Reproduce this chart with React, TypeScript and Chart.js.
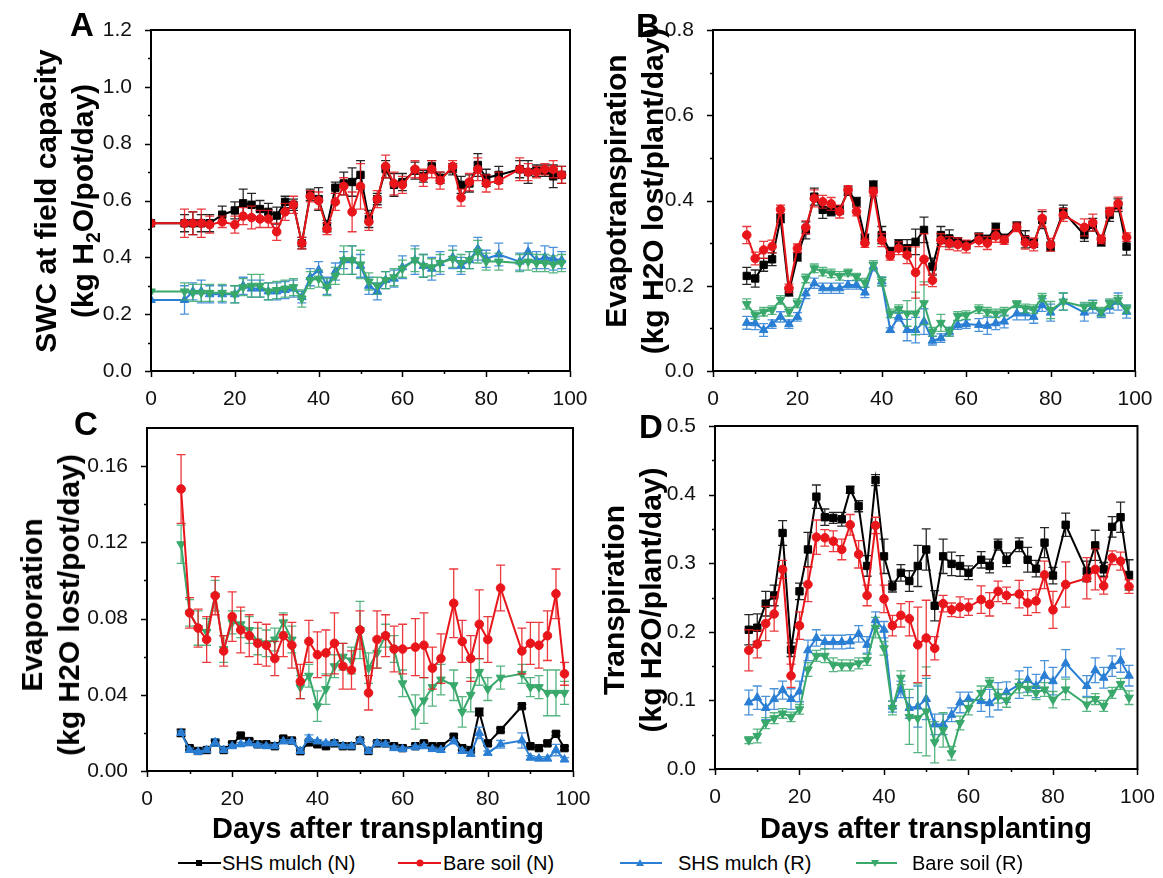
import React, { useEffect, useRef } from "react";
import { Chart, registerables } from "chart.js";
Chart.register(...registerables);

const FONT = '"Liberation Sans", Arial, Helvetica, sans-serif';
const BLACK = "#000000";
const RED = "#e8161b";
const BLUE = "#2a7fd4";
const GREEN = "#38a86b";

// ---------- categories (days after transplanting) ----------
const DAYS_A = [0, 8, 10, 12, 14, 17, 20, 22, 24, 26, 28, 30, 32, 34, 36, 38, 40, 42, 44, 46, 48, 50, 52, 54, 56, 58, 60, 63, 65, 67, 69, 72, 74, 76, 78, 80, 83, 88, 90, 92, 94, 96, 98];
const DAYS = [8, 10, 12, 14, 16, 18, 20, 22, 24, 26, 28, 30, 32, 34, 36, 38, 40, 42, 44, 46, 48, 50, 52, 54, 56, 58, 60, 63, 65, 67, 69, 72, 74, 76, 78, 80, 83, 88, 90, 92, 94, 96, 98];

// ---------- Panel A: SWC at field capacity ----------
const A_SHS_N = [0.52, 0.52, 0.52, 0.52, 0.52, 0.55, 0.565, 0.59, 0.585, 0.57, 0.56, 0.547, 0.595, 0.585, 0.45, 0.62, 0.605, 0.51, 0.645, 0.66, 0.665, 0.69, 0.535, 0.605, 0.71, 0.655, 0.665, 0.705, 0.685, 0.72, 0.68, 0.71, 0.655, 0.66, 0.725, 0.68, 0.69, 0.71, 0.70, 0.705, 0.705, 0.685, 0.69];
const A_SHS_N_ERR = [0, 0.03, 0.04, 0.03, 0.03, 0.03, 0.03, 0.05, 0.04, 0.03, 0.03, 0.03, 0.02, 0.02, 0.02, 0.02, 0.04, 0.02, 0.02, 0.04, 0.05, 0.05, 0.03, 0.02, 0.03, 0.04, 0.03, 0.03, 0.02, 0.02, 0.02, 0.02, 0.03, 0.03, 0.04, 0.03, 0.03, 0.03, 0.04, 0.02, 0.02, 0.04, 0.03];
const A_BARE_N = [0.52, 0.52, 0.52, 0.52, 0.515, 0.525, 0.515, 0.545, 0.54, 0.535, 0.535, 0.49, 0.56, 0.585, 0.45, 0.615, 0.60, 0.50, 0.595, 0.65, 0.56, 0.65, 0.525, 0.605, 0.72, 0.66, 0.655, 0.71, 0.68, 0.71, 0.67, 0.72, 0.61, 0.665, 0.71, 0.66, 0.67, 0.71, 0.70, 0.70, 0.71, 0.71, 0.69];
const A_BARE_N_ERR = [0, 0.05, 0.04, 0.05, 0.03, 0.02, 0.03, 0.03, 0.04, 0.03, 0.03, 0.03, 0.03, 0.03, 0.02, 0.02, 0.03, 0.02, 0.03, 0.03, 0.07, 0.08, 0.03, 0.03, 0.04, 0.04, 0.03, 0.03, 0.03, 0.03, 0.03, 0.02, 0.03, 0.03, 0.04, 0.03, 0.03, 0.04, 0.03, 0.02, 0.02, 0.03, 0.03];
const A_SHS_R = [0.25, 0.25, 0.28, 0.28, 0.27, 0.27, 0.27, 0.30, 0.29, 0.29, 0.28, 0.28, 0.285, 0.29, 0.26, 0.33, 0.355, 0.30, 0.35, 0.39, 0.39, 0.37, 0.30, 0.28, 0.32, 0.325, 0.365, 0.39, 0.37, 0.36, 0.38, 0.40, 0.37, 0.39, 0.43, 0.395, 0.41, 0.385, 0.42, 0.39, 0.40, 0.395, 0.39];
const A_SHS_R_ERR = [0, 0.05, 0.03, 0.04, 0.03, 0.03, 0.03, 0.03, 0.03, 0.03, 0.03, 0.03, 0.03, 0.03, 0.02, 0.03, 0.03, 0.03, 0.03, 0.03, 0.05, 0.04, 0.03, 0.03, 0.03, 0.03, 0.04, 0.05, 0.04, 0.04, 0.04, 0.04, 0.03, 0.03, 0.04, 0.03, 0.04, 0.03, 0.03, 0.03, 0.04, 0.04, 0.03];
const A_BARE_R = [0.28, 0.28, 0.275, 0.275, 0.275, 0.275, 0.27, 0.295, 0.30, 0.30, 0.28, 0.285, 0.29, 0.295, 0.255, 0.32, 0.325, 0.295, 0.335, 0.39, 0.39, 0.375, 0.315, 0.30, 0.32, 0.33, 0.36, 0.39, 0.37, 0.365, 0.38, 0.395, 0.38, 0.39, 0.42, 0.385, 0.385, 0.38, 0.385, 0.38, 0.38, 0.375, 0.38];
const A_BARE_R_ERR = [0, 0.03, 0.03, 0.03, 0.03, 0.03, 0.03, 0.03, 0.04, 0.04, 0.03, 0.03, 0.03, 0.03, 0.03, 0.03, 0.03, 0.03, 0.03, 0.05, 0.05, 0.05, 0.03, 0.03, 0.03, 0.03, 0.03, 0.04, 0.04, 0.03, 0.03, 0.03, 0.03, 0.03, 0.04, 0.03, 0.03, 0.03, 0.03, 0.03, 0.03, 0.03, 0.03];

// ---------- Panel B: Evapotranspiration ----------
const B_SHS_N = [0.223, 0.217, 0.249, 0.262, 0.358, 0.186, 0.268, 0.33, 0.409, 0.378, 0.374, 0.378, 0.422, 0.397, 0.311, 0.436, 0.319, 0.28, 0.298, 0.288, 0.303, 0.331, 0.245, 0.319, 0.311, 0.303, 0.296, 0.314, 0.309, 0.337, 0.311, 0.34, 0.309, 0.30, 0.354, 0.292, 0.374, 0.319, 0.343, 0.303, 0.366, 0.389, 0.292];
const B_SHS_N_ERR = [0.02, 0.02, 0.015, 0.015, 0.01, 0.01, 0.01, 0.02, 0.02, 0.02, 0.01, 0.01, 0.01, 0.01, 0.01, 0.01, 0.02, 0.01, 0.01, 0.02, 0.03, 0.03, 0.02, 0.02, 0.02, 0.01, 0.01, 0.01, 0.01, 0.01, 0.01, 0.01, 0.02, 0.01, 0.02, 0.01, 0.015, 0.015, 0.015, 0.01, 0.015, 0.015, 0.02];
const B_BARE_N = [0.319, 0.264, 0.284, 0.292, 0.379, 0.194, 0.288, 0.337, 0.405, 0.397, 0.392, 0.374, 0.425, 0.374, 0.30, 0.421, 0.307, 0.27, 0.288, 0.272, 0.231, 0.262, 0.213, 0.307, 0.30, 0.297, 0.292, 0.307, 0.30, 0.317, 0.307, 0.337, 0.301, 0.297, 0.358, 0.296, 0.366, 0.337, 0.348, 0.309, 0.374, 0.393, 0.314];
const B_BARE_N_ERR = [0.02, 0.015, 0.02, 0.015, 0.01, 0.01, 0.01, 0.015, 0.02, 0.015, 0.015, 0.015, 0.01, 0.01, 0.01, 0.01, 0.015, 0.01, 0.015, 0.02, 0.06, 0.06, 0.015, 0.015, 0.015, 0.015, 0.015, 0.015, 0.015, 0.015, 0.01, 0.01, 0.015, 0.015, 0.02, 0.015, 0.015, 0.02, 0.02, 0.01, 0.01, 0.015, 0.01];
const B_SHS_R = [0.113, 0.112, 0.096, 0.11, 0.127, 0.11, 0.127, 0.182, 0.206, 0.194, 0.194, 0.194, 0.202, 0.202, 0.184, 0.245, 0.21, 0.096, 0.127, 0.096, 0.096, 0.116, 0.071, 0.077, 0.092, 0.108, 0.11, 0.108, 0.106, 0.112, 0.116, 0.135, 0.135, 0.127, 0.155, 0.137, 0.163, 0.137, 0.151, 0.135, 0.151, 0.163, 0.139];
const B_SHS_R_ERR = [0.015, 0.015, 0.015, 0.01, 0.012, 0.01, 0.01, 0.012, 0.012, 0.012, 0.012, 0.012, 0.01, 0.01, 0.012, 0.01, 0.01, 0.005, 0.01, 0.025, 0.03, 0.03, 0.01, 0.01, 0.01, 0.01, 0.01, 0.015, 0.02, 0.015, 0.015, 0.015, 0.015, 0.015, 0.015, 0.02, 0.02, 0.02, 0.015, 0.01, 0.015, 0.02, 0.015];
const B_BARE_R = [0.157, 0.131, 0.139, 0.143, 0.167, 0.139, 0.159, 0.217, 0.241, 0.233, 0.229, 0.223, 0.231, 0.221, 0.207, 0.249, 0.21, 0.135, 0.145, 0.135, 0.135, 0.159, 0.092, 0.113, 0.092, 0.129, 0.131, 0.145, 0.139, 0.135, 0.139, 0.157, 0.147, 0.145, 0.172, 0.143, 0.163, 0.151, 0.155, 0.139, 0.159, 0.167, 0.145];
const B_BARE_R_ERR = [0.012, 0.01, 0.01, 0.01, 0.01, 0.01, 0.01, 0.01, 0.01, 0.01, 0.01, 0.01, 0.008, 0.008, 0.01, 0.01, 0.01, 0.01, 0.01, 0.03, 0.05, 0.05, 0.01, 0.02, 0.01, 0.01, 0.01, 0.01, 0.01, 0.01, 0.01, 0.008, 0.01, 0.01, 0.01, 0.02, 0.02, 0.01, 0.01, 0.01, 0.01, 0.01, 0.01];

// ---------- Panel C: Evaporation ----------
const C_SHS_N = [0.020, 0.012, 0.0105, 0.011, 0.015, 0.011, 0.014, 0.0186, 0.0157, 0.014, 0.014, 0.013, 0.017, 0.016, 0.0104, 0.015, 0.014, 0.013, 0.0145, 0.013, 0.013, 0.016, 0.0105, 0.0145, 0.0145, 0.013, 0.012, 0.013, 0.0145, 0.013, 0.013, 0.018, 0.012, 0.011, 0.031, 0.0145, 0.0215, 0.034, 0.013, 0.012, 0.0145, 0.0195, 0.012];
const C_SHS_N_ERR = [0.002, 0.001, 0.001, 0.001, 0.001, 0.001, 0.001, 0.001, 0.001, 0.001, 0.001, 0.001, 0.001, 0.001, 0.001, 0.001, 0.001, 0.001, 0.001, 0.001, 0.001, 0.001, 0.001, 0.001, 0.001, 0.001, 0.001, 0.001, 0.001, 0.001, 0.001, 0.001, 0.001, 0.001, 0.002, 0.001, 0.001, 0.001, 0.001, 0.001, 0.001, 0.001, 0.001];
const C_BARE_N = [0.148, 0.083, 0.075, 0.069, 0.092, 0.063, 0.081, 0.074, 0.071, 0.067, 0.066, 0.059, 0.071, 0.066, 0.047, 0.068, 0.061, 0.062, 0.067, 0.055, 0.053, 0.074, 0.041, 0.069, 0.071, 0.064, 0.064, 0.065, 0.066, 0.054, 0.059, 0.088, 0.068, 0.059, 0.077, 0.069, 0.096, 0.063, 0.067, 0.066, 0.071, 0.093, 0.051];
const C_BARE_N_ERR = [0.018, 0.008, 0.01, 0.012, 0.01, 0.008, 0.013, 0.012, 0.011, 0.011, 0.011, 0.009, 0.011, 0.012, 0.009, 0.011, 0.012, 0.012, 0.016, 0.012, 0.01, 0.01, 0.009, 0.015, 0.011, 0.012, 0.013, 0.015, 0.017, 0.011, 0.013, 0.018, 0.011, 0.012, 0.018, 0.012, 0.012, 0.012, 0.011, 0.012, 0.013, 0.013, 0.006];
const C_SHS_R = [0.020, 0.011, 0.010, 0.011, 0.015, 0.011, 0.013, 0.014, 0.0145, 0.0135, 0.013, 0.013, 0.0155, 0.0155, 0.0105, 0.017, 0.0155, 0.0145, 0.0145, 0.013, 0.013, 0.016, 0.0105, 0.0145, 0.014, 0.012, 0.0115, 0.0125, 0.013, 0.0115, 0.011, 0.0155, 0.0105, 0.009, 0.020, 0.0095, 0.014, 0.016, 0.007, 0.0065, 0.0065, 0.011, 0.006];
const C_SHS_R_ERR = [0.001, 0.001, 0.001, 0.001, 0.002, 0.001, 0.001, 0.001, 0.001, 0.001, 0.001, 0.001, 0.001, 0.001, 0.001, 0.002, 0.001, 0.001, 0.001, 0.001, 0.001, 0.001, 0.001, 0.001, 0.001, 0.001, 0.001, 0.001, 0.001, 0.001, 0.001, 0.001, 0.001, 0.001, 0.003, 0.001, 0.002, 0.004, 0.001, 0.001, 0.001, 0.003, 0.001];
const C_BARE_R = [0.119, 0.083, 0.075, 0.073, 0.092, 0.064, 0.078, 0.077, 0.074, 0.068, 0.067, 0.069, 0.078, 0.069, 0.044, 0.05, 0.034, 0.043, 0.055, 0.06, 0.058, 0.074, 0.054, 0.062, 0.071, 0.064, 0.046, 0.031, 0.037, 0.044, 0.048, 0.045, 0.031, 0.040, 0.052, 0.043, 0.049, 0.051, 0.044, 0.044, 0.041, 0.041, 0.041];
const C_BARE_R_ERR = [0.01, 0.007, 0.009, 0.007, 0.008, 0.007, 0.006, 0.007, 0.007, 0.007, 0.007, 0.006, 0.005, 0.007, 0.006, 0.006, 0.008, 0.008, 0.006, 0.007, 0.007, 0.015, 0.008, 0.008, 0.006, 0.007, 0.007, 0.009, 0.012, 0.01, 0.008, 0.008, 0.008, 0.009, 0.007, 0.006, 0.006, 0.005, 0.005, 0.006, 0.012, 0.012, 0.006];

// ---------- Panel D: Transpiration ----------
const D_SHS_N = [0.203, 0.206, 0.241, 0.253, 0.344, 0.174, 0.259, 0.32, 0.397, 0.367, 0.366, 0.364, 0.407, 0.383, 0.296, 0.421, 0.31, 0.266, 0.286, 0.274, 0.296, 0.32, 0.238, 0.31, 0.299, 0.296, 0.286, 0.305, 0.296, 0.327, 0.305, 0.327, 0.305, 0.292, 0.33, 0.282, 0.356, 0.288, 0.326, 0.291, 0.353, 0.367, 0.283];
const D_SHS_N_ERR = [0.022, 0.02, 0.018, 0.015, 0.018, 0.01, 0.012, 0.025, 0.017, 0.012, 0.008, 0.01, 0.005, 0.008, 0.015, 0.008, 0.025, 0.008, 0.012, 0.015, 0.03, 0.03, 0.022, 0.025, 0.017, 0.015, 0.01, 0.012, 0.01, 0.008, 0.01, 0.01, 0.018, 0.012, 0.022, 0.012, 0.017, 0.015, 0.022, 0.01, 0.015, 0.022, 0.022];
const D_BARE_N = [0.173, 0.182, 0.212, 0.226, 0.291, 0.136, 0.209, 0.269, 0.338, 0.337, 0.332, 0.32, 0.356, 0.313, 0.253, 0.355, 0.248, 0.209, 0.224, 0.219, 0.181, 0.191, 0.176, 0.241, 0.232, 0.236, 0.236, 0.247, 0.24, 0.259, 0.253, 0.255, 0.242, 0.245, 0.283, 0.232, 0.269, 0.278, 0.291, 0.267, 0.308, 0.303, 0.266];
const D_BARE_N_ERR = [0.03, 0.02, 0.025, 0.025, 0.013, 0.017, 0.02, 0.025, 0.025, 0.012, 0.015, 0.015, 0.015, 0.02, 0.015, 0.012, 0.02, 0.015, 0.017, 0.025, 0.055, 0.055, 0.017, 0.012, 0.01, 0.015, 0.012, 0.02, 0.017, 0.015, 0.012, 0.02, 0.018, 0.017, 0.02, 0.027, 0.033, 0.03, 0.03, 0.012, 0.01, 0.013, 0.01];
const D_SHS_R = [0.097, 0.104, 0.089, 0.102, 0.115, 0.102, 0.113, 0.173, 0.191, 0.185, 0.185, 0.185, 0.186, 0.197, 0.181, 0.217, 0.203, 0.091, 0.116, 0.089, 0.091, 0.102, 0.065, 0.065, 0.079, 0.097, 0.102, 0.099, 0.096, 0.106, 0.112, 0.123, 0.13, 0.121, 0.136, 0.128, 0.154, 0.121, 0.144, 0.133, 0.15, 0.158, 0.136];
const D_SHS_R_ERR = [0.018, 0.017, 0.017, 0.015, 0.013, 0.015, 0.015, 0.015, 0.012, 0.01, 0.01, 0.01, 0.01, 0.012, 0.012, 0.012, 0.012, 0.008, 0.012, 0.015, 0.03, 0.03, 0.015, 0.015, 0.01, 0.015, 0.01, 0.015, 0.02, 0.02, 0.015, 0.02, 0.018, 0.017, 0.022, 0.02, 0.02, 0.015, 0.018, 0.015, 0.015, 0.017, 0.015];
const D_BARE_R = [0.042, 0.048, 0.067, 0.074, 0.081, 0.076, 0.087, 0.145, 0.165, 0.165, 0.152, 0.151, 0.151, 0.154, 0.159, 0.206, 0.176, 0.089, 0.133, 0.076, 0.074, 0.084, 0.039, 0.057, 0.023, 0.067, 0.089, 0.111, 0.126, 0.106, 0.10, 0.121, 0.117, 0.111, 0.116, 0.101, 0.116, 0.094, 0.102, 0.092, 0.111, 0.124, 0.104];
const D_BARE_R_ERR = [0.005, 0.01, 0.008, 0.008, 0.007, 0.007, 0.007, 0.01, 0.008, 0.01, 0.01, 0.008, 0.008, 0.008, 0.008, 0.015, 0.01, 0.01, 0.01, 0.04, 0.05, 0.065, 0.03, 0.025, 0.01, 0.01, 0.01, 0.01, 0.007, 0.01, 0.01, 0.01, 0.01, 0.01, 0.01, 0.012, 0.015, 0.01, 0.008, 0.008, 0.008, 0.008, 0.01];

// ---------- tick labels ----------
const X_TICKS = [0, 20, 40, 60, 80, 100];
const X_MINOR = [10, 30, 50, 70, 90];
const A_Y_TICKS = [0, 0.2, 0.4, 0.6, 0.8, 1.0, 1.2];
const A_Y_MINOR = [0.1, 0.3, 0.5, 0.7, 0.9, 1.1];
const B_Y_TICKS = [0, 0.2, 0.4, 0.6, 0.8];
const B_Y_MINOR = [0.1, 0.3, 0.5, 0.7];
const C_Y_TICKS = [0, 0.04, 0.08, 0.12, 0.16];
const C_Y_MINOR = [0.02, 0.06, 0.1, 0.14];
const D_Y_TICKS = [0, 0.1, 0.2, 0.3, 0.4, 0.5];
const D_Y_MINOR = [0.05, 0.15, 0.25, 0.35, 0.45];

const LEGEND_LABELS = ["SHS mulch (N)", "Bare soil (N)", "SHS mulch (R)", "Bare soil (R)"];

type Style = { color: string; pointStyle: any; radius: number; rotation: number; order: number };
const S_SHS_N: Style = { color: BLACK, pointStyle: "rect", radius: 5.2, rotation: 0, order: 4 };
const S_BARE_N: Style = { color: RED, pointStyle: "circle", radius: 4.3, rotation: 0, order: 1 };
const S_SHS_R: Style = { color: BLUE, pointStyle: "triangle", radius: 5, rotation: 0, order: 3 };
const S_BARE_R: Style = { color: GREEN, pointStyle: "triangle", radius: 5, rotation: 180, order: 2 };

function ds(label: string, xs: number[], ys: number[], errs: number[], s: Style) {
  return {
    label,
    data: xs.map((x, i) => ({ x, y: ys[i] })),
    errors: errs,
    borderColor: s.color,
    backgroundColor: s.color,
    borderWidth: 2,
    pointStyle: s.pointStyle,
    pointRadius: s.radius,
    pointRotation: s.rotation,
    pointBackgroundColor: s.color,
    pointBorderColor: s.color,
    pointBorderWidth: 1,
    tension: 0,
    order: s.order,
  };
}

type PanelCfg = {
  left: number; top: number; w: number; h: number;
  padTop: number; padRight: number; yW: number; xH: number;
  yMax: number; yTicks: number[]; yMinor: number[]; decimals: number;
  datasets: any[];
};

const errorBarPlugin = {
  id: "errorBars",
  beforeDatasetDraw(chart: any, args: any) {
    const d: any = chart.data.datasets[args.index];
    if (!d.errors) return;
    const meta = args.meta;
    const ys = chart.scales.y;
    const ctx = chart.ctx;
    const a = chart.chartArea;
    ctx.save();
    ctx.beginPath();
    ctx.rect(a.left, a.top - 2, a.right - a.left, a.bottom - a.top + 4);
    ctx.clip();
    ctx.strokeStyle = d.borderColor;
    ctx.globalAlpha = 0.85;
    ctx.lineWidth = 1.3;
    ctx.beginPath();
    d.data.forEach((p: any, i: number) => {
      const e = d.errors[i];
      if (!e) return;
      const px = meta.data[i].x;
      const y1 = ys.getPixelForValue(p.y + e);
      const y2 = ys.getPixelForValue(p.y - e);
      ctx.moveTo(px, y1);
      ctx.lineTo(px, y2);
      ctx.moveTo(px - 4.5, y1);
      ctx.lineTo(px + 4.5, y1);
      ctx.moveTo(px - 4.5, y2);
      ctx.lineTo(px + 4.5, y2);
    });
    ctx.stroke();
    ctx.restore();
  },
};

function makeFramePlugin(cfg: PanelCfg) {
  return {
    id: "frame",
    afterDraw(chart: any) {
      const ctx = chart.ctx;
      const { left, right, top, bottom } = chart.chartArea;
      const xs = chart.scales.x;
      const ys = chart.scales.y;
      ctx.save();
      ctx.strokeStyle = "#000";
      ctx.lineWidth = 2;
      ctx.strokeRect(left, top, right - left, bottom - top);
      ctx.lineWidth = 1.5;
      ctx.beginPath();
      cfg.yTicks.forEach((v) => {
        const p = Math.round(ys.getPixelForValue(v)) + 0.5;
        ctx.moveTo(left, p);
        ctx.lineTo(left - 6, p);
      });
      cfg.yMinor.forEach((v) => {
        const p = Math.round(ys.getPixelForValue(v)) + 0.5;
        ctx.moveTo(left, p);
        ctx.lineTo(left - 3, p);
      });
      X_TICKS.forEach((v) => {
        const p = Math.round(xs.getPixelForValue(v)) + 0.5;
        ctx.moveTo(p, bottom);
        ctx.lineTo(p, bottom + 6);
      });
      X_MINOR.forEach((v) => {
        const p = Math.round(xs.getPixelForValue(v)) + 0.5;
        ctx.moveTo(p, bottom);
        ctx.lineTo(p, bottom + 3);
      });
      ctx.stroke();
      ctx.restore();
    },
  };
}

function Panel({ cfg }: { cfg: PanelCfg }) {
  const ref = useRef<HTMLCanvasElement>(null);
  useEffect(() => {
    const tickFont = { family: FONT, size: 21 };
    const chart = new Chart(ref.current as HTMLCanvasElement, {
      type: "line",
      data: { datasets: cfg.datasets },
      options: {
        animation: false,
        responsive: false,
        maintainAspectRatio: false,
        layout: { autoPadding: false, padding: { left: 0, top: cfg.padTop, right: cfg.padRight, bottom: 0 } } as any,
        plugins: { legend: { display: false }, tooltip: { enabled: false } },
        scales: {
          x: {
            type: "linear",
            min: 0,
            max: 100,
            afterFit: (s: any) => { s.height = cfg.xH; },
            afterBuildTicks: (s: any) => { s.ticks = X_TICKS.map((v) => ({ value: v })); },
            ticks: { font: tickFont, color: "#111", padding: 8, maxRotation: 0, autoSkip: false, callback: (v: any) => String(v) },
            grid: { display: false },
            border: { display: false },
          },
          y: {
            type: "linear",
            min: 0,
            max: cfg.yMax,
            afterFit: (s: any) => { s.width = cfg.yW; },
            afterBuildTicks: (s: any) => { s.ticks = cfg.yTicks.map((v) => ({ value: v })); },
            ticks: { font: tickFont, color: "#111", padding: 11, autoSkip: false, callback: (v: any) => Number(v).toFixed(cfg.decimals) },
            grid: { display: false },
            border: { display: false },
          },
        },
      } as any,
      plugins: [errorBarPlugin, makeFramePlugin(cfg)],
    });
    return () => chart.destroy();
  }, []);
  return (
    <canvas
      ref={ref}
      width={cfg.w}
      height={cfg.h}
      style={{ position: "absolute", left: cfg.left, top: cfg.top, width: cfg.w, height: cfg.h }}
    />
  );
}

const PANELS: PanelCfg[] = [
  {
    left: 0, top: 0, w: 600, h: 410, padTop: 30, padRight: 30, yW: 151, xH: 39,
    yMax: 1.2, yTicks: A_Y_TICKS, yMinor: A_Y_MINOR, decimals: 1,
    datasets: [
      ds(LEGEND_LABELS[0], DAYS_A, A_SHS_N, A_SHS_N_ERR, S_SHS_N),
      ds(LEGEND_LABELS[1], DAYS_A, A_BARE_N, A_BARE_N_ERR, S_BARE_N),
      ds(LEGEND_LABELS[2], DAYS_A, A_SHS_R, A_SHS_R_ERR, S_SHS_R),
      ds(LEGEND_LABELS[3], DAYS_A, A_BARE_R, A_BARE_R_ERR, S_BARE_R),
    ],
  },
  {
    left: 590, top: 0, w: 573, h: 410, padTop: 30, padRight: 28, yW: 123, xH: 39,
    yMax: 0.8, yTicks: B_Y_TICKS, yMinor: B_Y_MINOR, decimals: 1,
    datasets: [
      ds(LEGEND_LABELS[0], DAYS, B_SHS_N, B_SHS_N_ERR, S_SHS_N),
      ds(LEGEND_LABELS[1], DAYS, B_BARE_N, B_BARE_N_ERR, S_BARE_N),
      ds(LEGEND_LABELS[2], DAYS, B_SHS_R, B_SHS_R_ERR, S_SHS_R),
      ds(LEGEND_LABELS[3], DAYS, B_BARE_R, B_BARE_R_ERR, S_BARE_R),
    ],
  },
  {
    left: 0, top: 400, w: 600, h: 420, padTop: 28, padRight: 27, yW: 147, xH: 49,
    yMax: 0.18, yTicks: C_Y_TICKS, yMinor: C_Y_MINOR, decimals: 2,
    datasets: [
      ds(LEGEND_LABELS[0], DAYS, C_SHS_N, C_SHS_N_ERR, S_SHS_N),
      ds(LEGEND_LABELS[1], DAYS, C_BARE_N, C_BARE_N_ERR, S_BARE_N),
      ds(LEGEND_LABELS[2], DAYS, C_SHS_R, C_SHS_R_ERR, S_SHS_R),
      ds(LEGEND_LABELS[3], DAYS, C_BARE_R, C_BARE_R_ERR, S_BARE_R),
    ],
  },
  {
    left: 590, top: 400, w: 573, h: 420, padTop: 26, padRight: 25, yW: 125, xH: 51,
    yMax: 0.5, yTicks: D_Y_TICKS, yMinor: D_Y_MINOR, decimals: 1,
    datasets: [
      ds(LEGEND_LABELS[0], DAYS, D_SHS_N, D_SHS_N_ERR, S_SHS_N),
      ds(LEGEND_LABELS[1], DAYS, D_BARE_N, D_BARE_N_ERR, S_BARE_N),
      ds(LEGEND_LABELS[2], DAYS, D_SHS_R, D_SHS_R_ERR, S_SHS_R),
      ds(LEGEND_LABELS[3], DAYS, D_BARE_R, D_BARE_R_ERR, S_BARE_R),
    ],
  },
];

const boldText: React.CSSProperties = { position: "absolute", fontFamily: FONT, fontWeight: "bold", color: "#000", whiteSpace: "nowrap" };

function YTitle({ cx, cy, lines }: { cx: number; cy: number; lines: React.ReactNode[] }) {
  return (
    <div
      style={{
        ...boldText,
        left: cx,
        top: cy,
        fontSize: 30,
        lineHeight: "37px",
        textAlign: "center",
        transform: "translate(-50%, -50%) rotate(-90deg)",
      }}
    >
      {lines.map((l, i) => (
        <div key={i}>{l}</div>
      ))}
    </div>
  );
}

function LegendItem({ x1, x2, mx, tx, color, shape, label }: any) {
  const cy = 863;
  let marker: React.ReactNode = null;
  if (shape === "rect") marker = <rect x={mx - 3} y={7} width={6} height={6} fill={color} />;
  if (shape === "circle") marker = <circle cx={mx} cy={10} r={3.5} fill={color} />;
  if (shape === "up") marker = <polygon points={`${mx - 4},13 ${mx + 4},13 ${mx},6`} fill={color} />;
  if (shape === "down") marker = <polygon points={`${mx - 4},7 ${mx + 4},7 ${mx},14`} fill={color} />;
  return (
    <>
      <svg style={{ position: "absolute", left: 0, top: cy - 10 }} width={1163} height={20}>
        <line x1={x1} y1={10} x2={x2} y2={10} stroke={color} strokeWidth={2} />
        {marker}
      </svg>
      <div style={{ position: "absolute", left: tx, top: cy - 11, fontFamily: FONT, fontSize: 20, lineHeight: "22px", color: "#000", whiteSpace: "nowrap" }}>
        {label}
      </div>
    </>
  );
}

export default function App() {
  return (
    <div style={{ position: "absolute", left: 0, top: 0, width: 1163, height: 878, background: "#fff", overflow: "hidden" }}>
      {PANELS.map((p, i) => (
        <Panel key={i} cfg={p} />
      ))}
      <div style={{ ...boldText, left: 70, top: 8, fontSize: 33, lineHeight: "33px" }}>A</div>
      <div style={{ ...boldText, left: 636, top: 9, fontSize: 33, lineHeight: "33px" }}>B</div>
      <div style={{ ...boldText, left: 74, top: 407, fontSize: 33, lineHeight: "33px" }}>C</div>
      <div style={{ ...boldText, left: 639, top: 410, fontSize: 33, lineHeight: "33px" }}>D</div>

      <YTitle
        cx={66}
        cy={201}
        lines={[
          "SWC at field capacity",
          <span key="a">
            (kg H<span style={{ fontSize: "0.65em", position: "relative", top: "0.35em" }}>2</span>O/pot/day)
          </span>,
        ]}
      />
      <YTitle cx={634} cy={191} lines={["Evapotranspiration", "(kg H2O lost/plant/day)"]} />
      <YTitle cx={50} cy={605} lines={["Evaporation", "(kg H2O lost/pot/day)"]} />
      <YTitle cx={632} cy={600} lines={["Transpiration", "(kg H2O/plant/day)"]} />

      <div style={{ ...boldText, left: 378, top: 814, fontSize: 29, lineHeight: "29px", transform: "translateX(-50%)" }}>
        Days after transplanting
      </div>
      <div style={{ ...boldText, left: 926, top: 814, fontSize: 29, lineHeight: "29px", transform: "translateX(-50%)" }}>
        Days after transplanting
      </div>

      <LegendItem x1={178} x2={221} mx={199} tx={222} color={BLACK} shape="rect" label={LEGEND_LABELS[0]} />
      <LegendItem x1={398} x2={441} mx={420} tx={443} color={RED} shape="circle" label={LEGEND_LABELS[1]} />
      <LegendItem x1={620} x2={662} mx={640} tx={678} color={BLUE} shape="up" label={LEGEND_LABELS[2]} />
      <LegendItem x1={856} x2={897} mx={875} tx={912} color={GREEN} shape="down" label={LEGEND_LABELS[3]} />
    </div>
  );
}
